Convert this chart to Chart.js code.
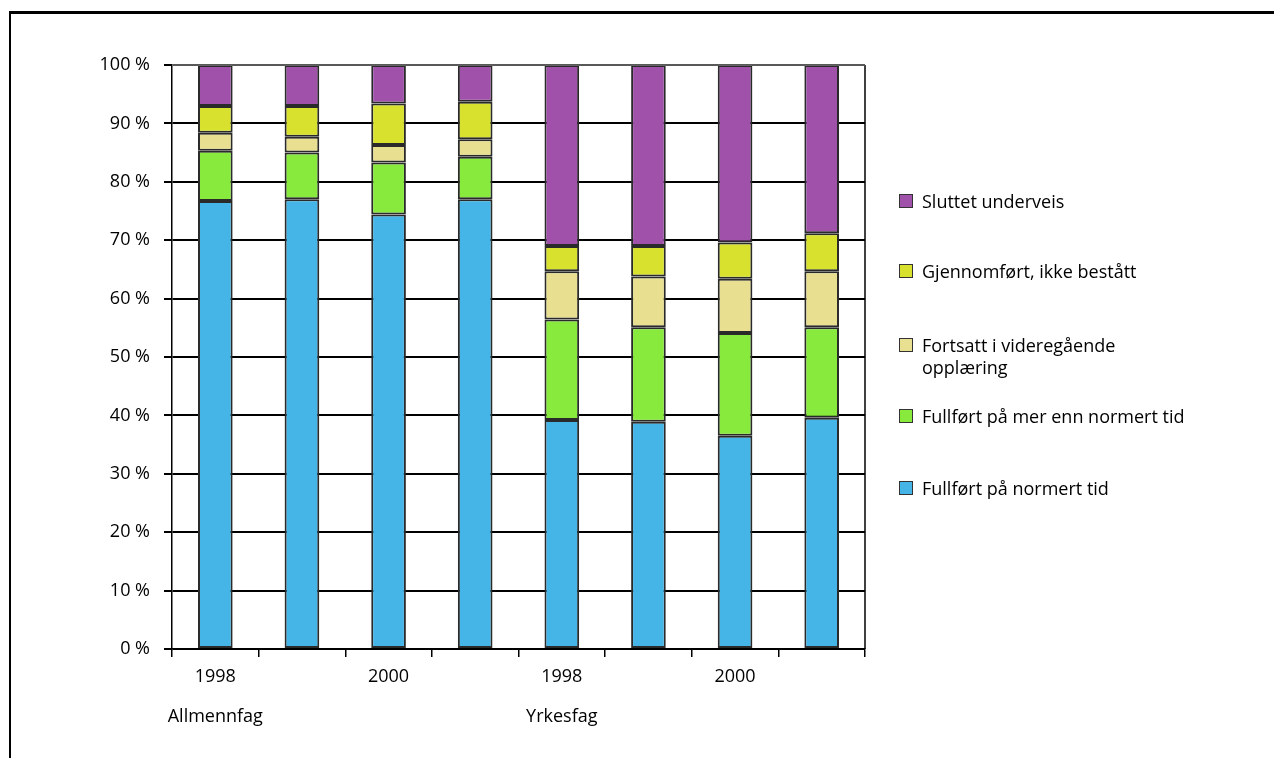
<!DOCTYPE html>
<html>
<head>
<meta charset="utf-8">
<script src="https://cdn.jsdelivr.net/npm/chart.js@4/dist/chart.umd.min.js"></script>
<style>
  html, body { margin: 0; padding: 0; background: #fff; }
  body { width: 1274px; height: 758px; position: relative; overflow: hidden; font-family: "Open Sans", sans-serif; }
  #frame { position: absolute; left: 9px; top: 11px; width: 1300px; height: 800px; border-top: 3px solid #000; border-left: 2px solid #000; }
  #wrap { position: absolute; left: 0; top: 0; width: 1274px; height: 758px; }
  #legend { position: absolute; left: 899px; top: 0; }
  .item { position: absolute; left: 0; white-space: nowrap; font-size: 18px; line-height: 22px; color: #000; }
  .box { position: absolute; left: 0; top: 4px; width: 12px; height: 12px; border: 1px solid #333; }
  .txt { position: absolute; left: 23px; top: 0; }
</style>
</head>
<body>
<div id="frame"></div>
<div id="wrap"><canvas id="grafico"></canvas></div>
<div id="legend"></div>
<script>
// kategorier
var years  = ["1998", "", "2000", "", "1998", "", "2000", ""];
var groups = ["Allmennfag", "", "", "", "Yrkesfag", "", "", ""];

// verdier i prosent
var normert    = [76.7, 77.0, 74.4, 77.0, 39.2, 38.9, 36.5, 39.6];
var merEnn     = [8.6, 8.0, 8.9, 7.3, 17.2, 16.2, 17.6, 15.5];
var fortsatt   = [3.1, 2.7, 3.0, 3.0, 8.3, 8.7, 9.3, 9.6];
var ikkeBestat = [4.6, 5.3, 7.1, 6.4, 4.3, 5.2, 6.2, 6.5];
var sluttet    = [7.0, 7.0, 6.6, 6.3, 31.0, 31.0, 30.4, 28.8];

var yTicks = [0, 10, 20, 30, 40, 50, 60, 70, 80, 90, 100];

var series = [
  { label: "Fullført på normert tid", data: normert, color: "#45B4E6", top: 477 },
  { label: "Fullført på mer enn normert tid", data: merEnn, color: "#88EA3C", top: 405 },
  { label: ["Fortsatt i videregående", "opplæring"], data: fortsatt, color: "#E8DF90", top: 334 },
  { label: "Gjennomført, ikke bestått", data: ikkeBestat, color: "#D8E22E", top: 260 },
  { label: "Sluttet underveis", data: sluttet, color: "#A052AA", top: 190 }
];

var rightBorder = {
  id: 'rightBorder',
  afterDatasetsDraw: function (chart) {
    var a = chart.chartArea, c = chart.ctx;
    c.save();
    c.strokeStyle = "#000";
    c.lineWidth = 1.5;
    c.beginPath();
    c.moveTo(a.right, a.top);
    c.lineTo(a.right, a.bottom);
    c.stroke();
    c.strokeStyle = "#777";
    c.beginPath();
    c.moveTo(a.left, a.top);
    c.lineTo(a.right, a.top);
    c.stroke();
    c.restore();
  }
};

var ctx = document.getElementById("grafico");
var myChart = new Chart(ctx, {
  type: 'bar',
  data: {
    labels: years.map(function (y, i) { return groups[i] ? [y, groups[i]] : y; }),
    datasets: series.map(function (s) {
      return {
        label: Array.isArray(s.label) ? s.label.join(" ") : s.label,
        data: s.data,
        backgroundColor: s.color,
        borderColor: "#2a2a2a",
        borderWidth: 2,
        borderSkipped: false,
        barPercentage: 0.4,
        categoryPercentage: 1.0
      };
    })
  },
  options: {
    responsive: true,
    maintainAspectRatio: false,
    animation: false,
    layout: { padding: { left: 0, right: 409, top: 65, bottom: 0 } },
    plugins: { legend: { display: false }, tooltip: { enabled: false } },
    scales: {
      x: {
        stacked: true,
        grid: { offset: true, drawOnChartArea: false, drawTicks: true, tickLength: 8, color: "#000", lineWidth: 1.5 },
        border: { display: true, color: "#000", width: 1.5 },
        ticks: { color: "#000", font: { family: "Open Sans", size: 18, lineHeight: 2.2 }, maxRotation: 0, autoSkip: false, padding: 0 },
        afterFit: function (scale) { scale.height = 109; }
      },
      y: {
        stacked: true,
        min: 0, max: 100,
        afterBuildTicks: function (scale) { scale.ticks = yTicks.map(function (v) { return { value: v }; }); },
        grid: { color: "#000", lineWidth: 2, tickLength: 8 },
        border: { display: true, color: "#000", width: 1.5 },
        ticks: { color: "#000", font: { family: "Open Sans", size: 18 }, padding: 14, callback: function (v) { return v + " %"; } },
        afterFit: function (scale) { scale.width = 172; }
      }
    }
  },
  plugins: [rightBorder]
});

// forklaring
var leg = document.getElementById("legend");
series.forEach(function (s) {
  var d = document.createElement("div");
  d.className = "item";
  d.style.top = s.top + "px";
  var b = document.createElement("div");
  b.className = "box";
  b.style.background = s.color;
  var t = document.createElement("div");
  t.className = "txt";
  t.innerHTML = Array.isArray(s.label) ? s.label.join("<br>") : s.label;
  d.appendChild(b);
  d.appendChild(t);
  leg.appendChild(d);
});
</script>
</body>
</html>
